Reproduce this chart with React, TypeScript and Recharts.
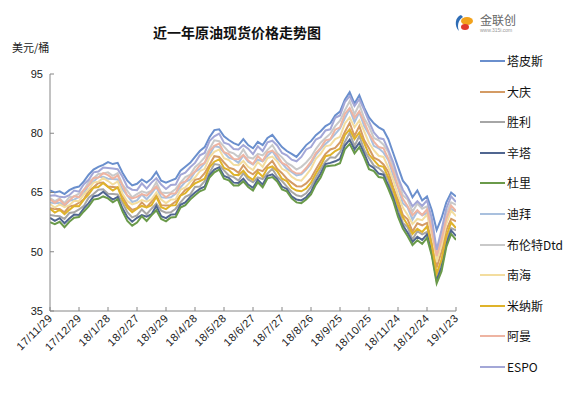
import React from 'react';
import { LineChart, Line, XAxis, YAxis } from 'recharts';

const days = [0,5,10,15,20,25,30,35,40,45,50,55,60,65,70,75,80,85,90,95,100,105,110,115,120,125,130,135,140,145,150,155,160,165,170,175,180,185,190,195,200,205,210,215,220,225,230,235,240,245,250,255,260,265,270,275,280,285,290,295,300,305,310,315,320,325,330,335,340,345,350,355,360,365,370,375,380,385,390,395,400,405,410,415,420];
const tickDays = [0,30,60,90,120,150,180,210,240,270,300,330,360,390,420];
const tickLabels = ['17/11/29','17/12/29','18/1/28','18/2/27','18/3/29','18/4/28','18/5/28','18/6/27','18/7/27','18/8/26','18/9/25','18/10/25','18/11/24','18/12/24','19/1/23'];
const yTicks = [35,50,65,80,95];

const tapis = [65.5,65.0,65.3,64.6,65.6,66.2,66.5,67.8,69.5,70.8,71.5,72.0,72.7,72.2,72.5,70.0,68.0,66.8,67.2,68.3,67.5,68.5,70.2,68.0,67.5,68.0,68.5,70.5,71.5,72.5,74.0,75.5,76.5,79.0,80.8,81.0,79.2,78.3,77.5,77.0,78.5,77.0,76.2,77.8,77.0,78.8,79.6,78.0,76.5,75.5,74.8,74.0,75.5,77.0,78.0,79.5,80.5,81.8,82.5,84.5,85.5,88.5,90.4,87.5,89.6,86.5,84.0,82.5,81.5,80.8,78.5,75.0,71.5,68.0,66.5,63.8,65.5,63.0,64.0,60.5,55.5,58.5,62.5,65.0,64.0];
const daqing = [61.0,60.8,60.8,60.0,61.5,61.7,62.4,63.3,65.4,66.3,67.4,67.5,66.5,66.4,66.3,64.2,61.8,60.6,61.0,62.5,61.3,62.7,64.4,61.8,61.7,61.8,62.7,64.3,65.7,66.3,68.2,68.5,69.9,72.0,74.2,74.0,72.6,71.3,70.9,70.0,71.9,70.3,69.6,70.8,70.4,71.8,73.0,71.0,69.9,68.5,67.5,66.6,66.5,67.3,68.6,70.8,72.9,74.8,75.9,76.3,77.7,80.3,82.6,79.3,81.8,78.3,76.2,73.8,73.2,72.1,70.2,66.3,63.2,59.3,58.2,55.1,57.2,56.7,57.3,52.5,46.0,50.0,55.5,58.3,57.7];
const shengli = [59.3,59.1,59.0,58.3,59.8,60.0,60.7,61.6,63.7,64.6,65.7,65.8,64.7,64.6,64.5,62.4,60.0,58.7,59.2,60.7,59.5,60.9,62.2,60.4,59.9,60.0,60.9,62.5,63.9,64.5,66.4,66.5,67.9,70.0,72.2,72.0,70.6,69.3,68.9,68.0,69.9,68.3,67.6,68.8,68.4,69.8,71.0,69.0,67.9,66.5,65.2,64.3,64.0,64.8,66.4,68.8,70.9,72.8,73.9,73.8,75.2,77.8,80.1,76.8,79.3,75.8,73.7,71.8,71.2,70.1,68.2,64.3,61.2,57.3,56.2,53.1,55.2,54.4,55.0,50.5,43.5,47.0,53.0,56.0,55.4];
const cinta = [58.6,57.8,58.5,57.2,58.4,59.4,59.3,61.0,62.3,64.0,64.3,65.2,64.1,63.2,63.9,61.0,58.8,57.6,58.6,59.3,58.9,59.5,61.6,59.0,58.5,59.4,59.5,61.9,62.5,63.9,65.0,65.9,66.5,69.4,70.8,71.4,69.2,68.7,67.5,67.4,68.5,67.0,66.2,68.2,67.0,69.2,69.6,68.4,66.5,65.9,64.0,63.2,63.0,63.8,65.2,67.8,69.8,72.2,72.5,72.9,73.5,76.9,78.4,75.9,77.6,74.9,72.0,71.2,69.8,69.5,66.8,63.7,59.8,56.7,54.8,52.5,53.8,53.0,54.4,49.5,42.8,46.0,52.0,55.4,54.0];
const duri = [57.5,57.0,57.6,56.2,57.6,58.6,58.8,60.2,61.5,63.2,63.4,64.0,63.5,62.5,63.3,60.2,57.8,56.6,57.4,59.0,57.8,59.2,60.5,58.3,57.7,58.7,58.8,61.2,61.8,63.2,64.3,65.3,65.8,68.8,70.1,70.8,68.5,68.1,66.8,66.8,67.8,66.4,65.5,67.6,66.3,68.6,68.9,67.8,65.8,65.3,63.5,62.5,62.3,63.2,64.5,67.0,68.8,71.6,71.8,71.9,72.4,75.9,77.3,74.9,76.5,73.9,70.9,70.4,68.9,68.7,65.9,62.9,58.9,55.9,53.9,51.7,52.9,52.0,53.5,49.0,42.0,45.0,51.2,54.5,53.0];
const dubai = [62.5,62.3,62.4,61.6,62.9,63.2,63.9,64.8,66.9,67.8,68.9,69.0,68.5,68.4,68.3,65.8,64.2,62.6,63.0,64.5,63.3,64.7,66.4,63.8,63.7,63.8,64.7,66.3,67.7,68.3,70.2,71.0,72.4,74.5,76.7,76.5,75.1,73.8,73.4,72.5,74.4,72.8,72.1,73.3,72.9,74.3,75.5,73.5,72.4,71.0,70.2,69.3,69.6,70.8,72.3,74.5,76.0,77.3,78.4,79.8,81.2,83.8,86.1,82.8,85.3,81.8,79.7,76.8,76.2,75.1,73.2,69.3,66.2,62.3,61.2,58.1,60.2,59.2,59.8,55.0,48.5,52.5,58.0,60.8,60.2];
const brent = [63.6,62.8,63.5,62.3,63.8,64.0,64.7,65.6,67.7,68.6,69.7,69.8,70.1,69.2,69.9,67.0,65.4,63.8,64.6,65.3,64.9,65.5,67.6,65.0,64.9,65.0,65.9,67.5,68.9,69.5,71.4,72.5,73.9,76.0,78.2,78.0,76.6,75.3,74.9,74.0,75.9,73.9,73.6,74.8,74.4,75.8,77.0,75.0,73.9,72.5,71.8,70.8,71.5,72.6,74.0,76.0,77.6,78.8,79.9,81.8,83.2,85.8,88.1,84.8,87.3,83.8,81.7,78.8,78.2,77.1,75.2,71.3,68.2,64.3,63.2,60.1,62.2,60.9,61.5,57.0,50.0,54.5,59.8,62.5,61.9];
const nanhai = [62.1,61.2,62.0,61.3,61.8,62.9,62.8,64.5,65.8,67.5,67.7,68.7,67.9,67.0,67.8,64.7,62.8,62.0,62.4,63.1,62.7,63.3,65.0,63.2,62.3,63.2,63.3,65.7,66.3,67.7,68.8,70.4,71.0,73.9,75.3,75.9,73.7,73.2,72.0,71.9,73.0,71.5,70.7,72.7,71.5,73.7,74.1,72.9,71.0,70.4,69.0,68.2,68.0,69.4,71.0,73.5,74.8,76.7,77.0,78.5,79.1,82.5,84.0,81.5,83.2,80.5,77.6,75.7,74.3,74.0,71.3,68.2,64.3,61.2,59.3,57.0,58.3,58.0,59.4,54.5,47.5,51.5,57.0,60.4,59.0];
const minas = [60.9,59.9,60.6,59.5,60.6,61.6,61.5,63.2,64.5,66.2,66.4,67.4,66.4,65.5,66.3,63.2,61.2,60.0,60.9,61.6,61.2,61.8,63.9,61.3,60.8,61.7,61.8,64.2,64.8,66.2,67.3,67.9,68.5,71.4,72.8,73.4,71.2,70.7,69.5,69.4,70.5,69.0,68.2,70.2,69.0,71.2,71.6,70.4,68.5,67.9,66.2,65.5,65.3,66.0,67.5,69.8,71.8,74.2,74.5,75.5,76.1,79.5,81.0,78.5,80.2,77.5,74.6,73.2,71.8,71.5,68.8,65.7,61.8,58.7,56.8,54.5,55.8,55.0,56.4,51.5,44.5,48.0,54.0,57.4,56.0];
const oman = [63.3,62.4,63.2,61.9,63.0,64.1,63.8,65.7,66.8,68.7,68.8,69.9,69.4,68.5,69.3,66.8,64.2,63.5,63.9,64.6,64.2,65.3,66.5,64.8,63.8,64.7,64.8,67.3,67.8,69.2,70.3,71.9,72.5,75.5,76.8,77.4,75.2,74.7,73.5,73.4,74.5,73.1,72.2,74.2,73.0,75.2,75.6,74.4,72.5,71.9,70.5,69.8,69.9,71.2,72.8,75.0,76.3,78.2,78.5,80.9,81.5,84.9,86.4,83.9,85.6,82.9,80.0,77.9,76.5,76.2,73.5,70.4,66.5,63.4,61.5,59.2,60.5,59.3,60.7,55.5,49.0,53.0,58.5,61.7,60.3];
const espo = [64.2,64.3,63.9,63.8,64.3,65.5,65.2,67.1,68.2,70.1,70.3,71.3,71.2,71.1,70.9,69.0,66.4,65.7,65.6,67.3,66.0,67.5,68.6,67.0,65.9,66.9,67.0,69.5,70.0,71.4,72.5,74.4,75.0,78.0,79.2,79.9,77.6,77.2,76.0,75.9,77.0,76.1,74.7,76.7,75.5,77.7,78.1,76.9,75.0,74.4,73.3,72.9,74.0,75.9,76.5,78.4,79.0,80.7,81.0,83.9,84.5,87.9,89.4,86.9,88.6,85.9,83.0,80.2,78.8,78.5,75.8,72.7,68.8,65.7,63.8,61.5,62.8,61.6,63.0,58.5,50.5,55.5,61.0,64.0,62.6];

const series = [
  { key: 's0', name: '塔皮斯', color: '#6a8fcd', values: tapis },
  { key: 's1', name: '大庆', color: '#d49b64', values: daqing },
  { key: 's2', name: '胜利', color: '#a6a6a6', values: shengli },
  { key: 's3', name: '辛塔', color: '#506690', values: cinta },
  { key: 's4', name: '杜里', color: '#6a9a4a', values: duri },
  { key: 's5', name: '迪拜', color: '#a9c0de', values: dubai },
  { key: 's6', name: '布伦特Dtd', color: '#c9c9c9', values: brent },
  { key: 's7', name: '南海', color: '#f3dd9f', values: nanhai },
  { key: 's8', name: '米纳斯', color: '#dfb32a', values: minas },
  { key: 's9', name: '阿曼', color: '#eeb4a2', values: oman },
  { key: 's10', name: 'ESPO', color: '#a3a7d7', values: espo },
];

const rows = days.map((d, i) => {
  const r: any = { day: d };
  series.forEach((s) => { r[s.key] = s.values[i]; });
  return r;
});

const FONT = 'Arial, "Liberation Sans", "Noto Sans CJK SC", sans-serif';
const CJK = '"Noto Sans CJK SC", "Liberation Sans", sans-serif';

const XTick = (props: any) => {
  const { x, y, payload } = props;
  const idx = tickDays.indexOf(payload.value);
  const label = idx >= 0 ? tickLabels[idx] : '';
  const ax = x + 3;
  const ay = y + 4;
  return (
    <text x={ax} y={ay} transform={`rotate(-45 ${ax} ${ay})`} textAnchor="end" fontSize={11} fill="#1a1a1a" fontFamily={FONT} letterSpacing={0.4}>
      {label}
    </text>
  );
};

const Logo = () => (
  <div style={{ position: 'absolute', left: 452, top: 12, width: 90, height: 26 }}>
    <svg width={24} height={22} style={{ position: 'absolute', left: 0, top: 0 }}>
      <path d="M9 3 C3 5 2 14 7 19 C5 14 6 8 11 5 Z" fill="#2f6db5" />
      <ellipse cx={15} cy={9} rx={6} ry={4} fill="#f2a21c" />
      <ellipse cx={13} cy={15} rx={4} ry={3} fill="#e0392b" />
    </svg>
    <div style={{ position: 'absolute', left: 28, top: 1, fontSize: 12, color: '#666', fontFamily: CJK, lineHeight: '14px' }}>金联创</div>
    <div style={{ position: 'absolute', left: 28, top: 15, fontSize: 5, color: '#999', fontFamily: FONT, lineHeight: '6px' }}>www.315i.com</div>
  </div>
);

export default function App() {
  return (
    <div style={{ position: 'absolute', left: 0, top: 0, width: 579, height: 399, background: '#fff', fontFamily: FONT }}>
      <LineChart width={579} height={399} data={rows} margin={{ top: 74, right: 123, bottom: 0, left: 8 }}>
        <XAxis
          dataKey="day"
          type="number"
          domain={[0, 420]}
          ticks={tickDays}
          interval={0}
          height={88}
          tickSize={-4}
          tickMargin={8}
          stroke="#868686"
          tick={<XTick />}
          allowDataOverflow
        />
        <YAxis
          type="number"
          domain={[35, 95]}
          ticks={yTicks}
          interval={0}
          width={42}
          tickSize={-4}
          tickMargin={11}
          stroke="#868686"
          tick={{ fill: '#1a1a1a', fontSize: 11, fontFamily: FONT }}
          allowDataOverflow
        />
        {series.map((s) => (
          <Line
            key={s.key}
            dataKey={s.key}
            name={s.name}
            type="linear"
            stroke={s.color}
            strokeWidth={2}
            dot={false}
            activeDot={false}
            isAnimationActive={false}
          />
        ))}
      </LineChart>
      <div style={{ position: 'absolute', left: 0, width: 474, top: 22, textAlign: 'center', fontSize: 14, fontWeight: 'bold', fontFamily: CJK, color: '#111', lineHeight: '20px' }}>
        近一年原油现货价格走势图
      </div>
      <div style={{ position: 'absolute', left: 12, top: 40, fontSize: 11, fontFamily: CJK, color: '#222', lineHeight: '14px' }}>美元/桶</div>
      <Logo />
      {series.map((s, k) => {
        const cy = 61 + k * 30.6;
        return (
          <div key={s.key}>
            <div style={{ position: 'absolute', left: 480, top: cy - 1, width: 25, height: 2, background: s.color }} />
            <div style={{ position: 'absolute', left: 507, top: cy - 9, fontSize: 12, fontFamily: CJK, color: '#111', lineHeight: '18px', whiteSpace: 'nowrap' }}>{s.name}</div>
          </div>
        );
      })}
    </div>
  );
}
